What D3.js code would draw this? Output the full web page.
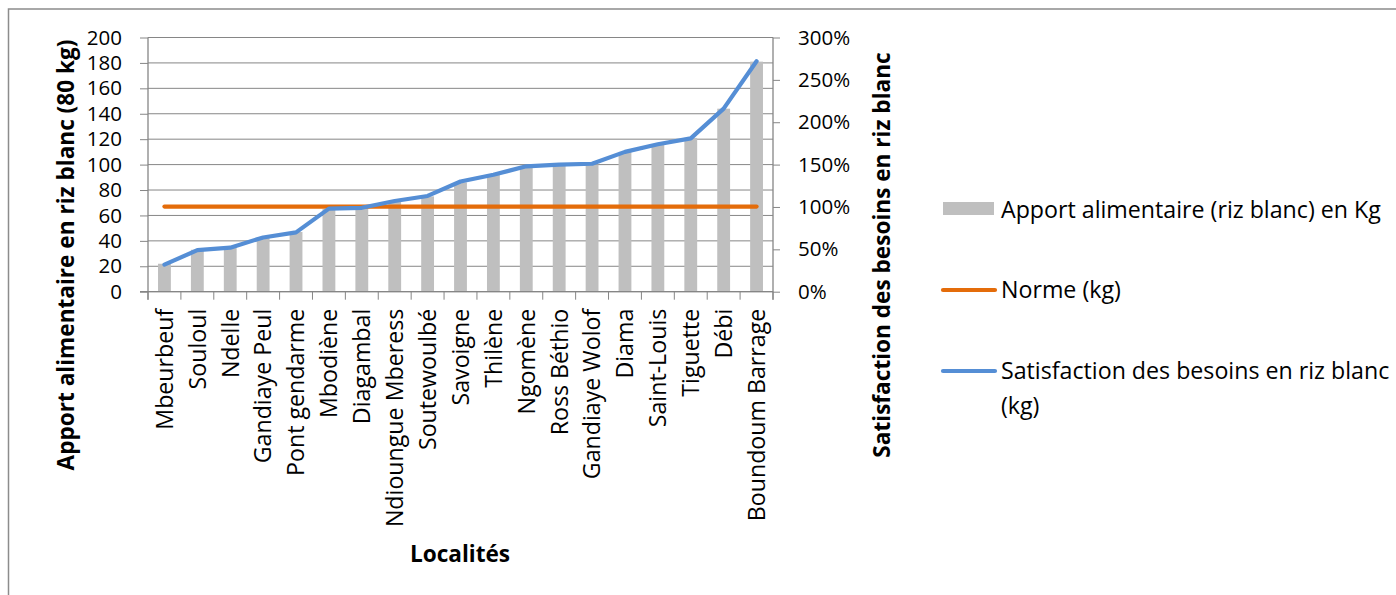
<!DOCTYPE html>
<html>
<head>
<meta charset="utf-8">
<script src="https://cdn.jsdelivr.net/npm/d3@7"></script>
<style>
  body { margin: 0; background: #fff; }
  text { font-family: "Open Sans", sans-serif; fill: #000; }
</style>
</head>
<body>
<div id="chart"></div>
<script>
"use strict";
// données
const localites = ["Mbeurbeuf", "Souloul", "Ndelle", "Gandiaye Peul", "Pont gendarme", "Mbodiène",
    "Diagambal", "Ndioungue Mberess", "Soutewoulbé", "Savoigne", "Thilène", "Ngomène",
    "Ross Béthio", "Gandiaye Wolof", "Diama", "Saint-Louis", "Tiguette", "Débi", "Boundoum Barrage"];
const apport = [22, 33, 35, 43, 47, 65, 66, 71, 75, 86, 92, 99, 100, 100, 110, 116, 121, 144, 181];
const norme = [67, 67, 67, 67, 67, 67, 67, 67, 67, 67, 67, 67, 67, 67, 67, 67, 67, 67, 67];
const satisfaction = [0.32, 0.49, 0.52, 0.64, 0.70, 0.98, 0.99, 1.07, 1.13, 1.30, 1.38, 1.48,
    1.50, 1.51, 1.65, 1.74, 1.81, 2.16, 2.72];
const leftTicks = [0, 20, 40, 60, 80, 100, 120, 140, 160, 180, 200];
const rightTicks = [0, 0.5, 1, 1.5, 2, 2.5, 3];
const legende = ["Apport alimentaire (riz blanc) en Kg", "Norme (kg)", "Satisfaction des besoins en riz blanc", "(kg)"];

const width = 1396, height = 595;
const plot = {left: 148, right: 773, top: 37.5, bottom: 291.7};
const fsNum = 20.5, fsTxt = 23.2, fsBold = 22.6;

const svg = d3.select("#chart").append("svg")
    .attr("width", width).attr("height", height);

// cadre
svg.append("path")
    .attr("d", `M8.5,${height} V9 H${width}`)
    .attr("fill", "none").attr("stroke", "#8c8c8c").attr("stroke-width", 1.5);

const x = d3.scaleBand().domain(localites).range([plot.left, plot.right]);
const yL = d3.scaleLinear().domain([0, 200]).range([plot.bottom, plot.top]);
const yR = d3.scaleLinear().domain([0, 3]).range([plot.bottom, plot.top]);

// grille
svg.append("g").selectAll("line").data(leftTicks).join("line")
    .attr("x1", plot.left).attr("x2", plot.right)
    .attr("y1", d => yL(d)).attr("y2", d => yL(d))
    .attr("stroke", "#868686").attr("stroke-width", 1);

// barres
const bw = x.bandwidth() * 0.39;
svg.append("g").selectAll("rect").data(apport).join("rect")
    .attr("x", (d, i) => x(localites[i]) + x.bandwidth() / 2 - bw / 2)
    .attr("y", d => yL(d))
    .attr("width", bw)
    .attr("height", d => yL(0) - yL(d))
    .attr("fill", "#bfbfbf");

// axe gauche
const axL = svg.append("g").attr("transform", `translate(${plot.left},0)`)
    .call(d3.axisLeft(yL).tickValues(leftTicks).tickSize(8).tickPadding(18));
// axe droit
const axR = svg.append("g").attr("transform", `translate(${plot.right},0)`)
    .call(d3.axisRight(yR).tickValues(rightTicks).tickSize(7).tickPadding(18)
        .tickFormat(d3.format(".0%")));
// axe x
const axX = svg.append("g").attr("transform", `translate(0,${plot.bottom})`)
    .call(d3.axisBottom(x).tickSize(0).tickPadding(0));
axX.selectAll(".tick line").remove();
axX.selectAll("line.sep").data(d3.range(localites.length + 1)).join("line")
    .attr("class", "sep")
    .attr("x1", i => plot.left + i * x.step()).attr("x2", i => plot.left + i * x.step())
    .attr("y1", 0).attr("y2", 8)
    .attr("stroke", "#868686");

[axL, axR, axX].forEach(a => {
    a.select(".domain").attr("stroke", "#868686").attr("stroke-width", 1.3);
    a.selectAll(".tick line").attr("stroke", "#868686");
    a.selectAll("text").style("font-family", "'Open Sans', sans-serif")
        .style("font-size", fsNum + "px").attr("fill", "#000");
});
axX.selectAll(".tick text")
    .attr("transform", "rotate(-90)")
    .attr("text-anchor", "end")
    .attr("dx", "-17")
    .attr("dy", "0.36em")
    .attr("x", 0).attr("y", 0)
    .style("font-size", fsTxt + "px");
axL.select(".domain").attr("d", `M0,${plot.bottom + 8}V${plot.top}`);
axR.select(".domain").attr("d", `M0,${plot.bottom + 8}V${plot.top}`);
axR.selectAll(".tick text").attr("text-anchor", "start");
axX.select(".domain").attr("d", `M${plot.left - 8},0H${plot.right}`);

// lignes
const cx = d => x(d) + x.bandwidth() / 2;
svg.append("path").datum(norme)
    .attr("d", d3.line().x((d, i) => cx(localites[i])).y(d => yL(d)))
    .attr("fill", "none").attr("stroke", "#e46c0a").attr("stroke-width", 4.2)
    .attr("stroke-linecap", "round");
svg.append("path").datum(satisfaction)
    .attr("d", d3.line().x((d, i) => cx(localites[i])).y(d => yR(d)))
    .attr("fill", "none").attr("stroke", "#558ed5").attr("stroke-width", 4.2)
    .attr("stroke-linecap", "round").attr("stroke-linejoin", "round");

// titres des axes
svg.append("text")
    .attr("transform", `translate(74,255) rotate(-90)`)
    .attr("text-anchor", "middle")
    .style("font-weight", "bold").style("font-size", fsBold + "px")
    .text("Apport alimentaire en riz blanc (80 kg)");
svg.append("text")
    .attr("transform", `translate(890,255) rotate(-90)`)
    .attr("text-anchor", "middle")
    .style("font-weight", "bold").style("font-size", fsBold + "px")
    .text("Satisfaction des besoins en riz blanc");
svg.append("text")
    .attr("x", 460).attr("y", 562)
    .attr("text-anchor", "middle")
    .style("font-weight", "bold").style("font-size", fsBold + "px")
    .text("Localités");

// légende
const lg = svg.append("g");
lg.append("rect").attr("x", 943).attr("y", 202).attr("width", 51).attr("height", 13).attr("fill", "#bfbfbf");
lg.append("line").attr("x1", 943).attr("x2", 995).attr("y1", 290).attr("y2", 290)
    .attr("stroke", "#e46c0a").attr("stroke-width", 4.2).attr("stroke-linecap", "round");
lg.append("line").attr("x1", 943).attr("x2", 995).attr("y1", 371).attr("y2", 371)
    .attr("stroke", "#558ed5").attr("stroke-width", 4.2).attr("stroke-linecap", "round");
const lgY = [218, 298, 379, 414];
lg.selectAll("text").data(legende).join("text")
    .attr("x", 1001).attr("y", (d, i) => lgY[i])
    .style("font-size", fsTxt + "px")
    .text(d => d);
</script>
</body>
</html>
